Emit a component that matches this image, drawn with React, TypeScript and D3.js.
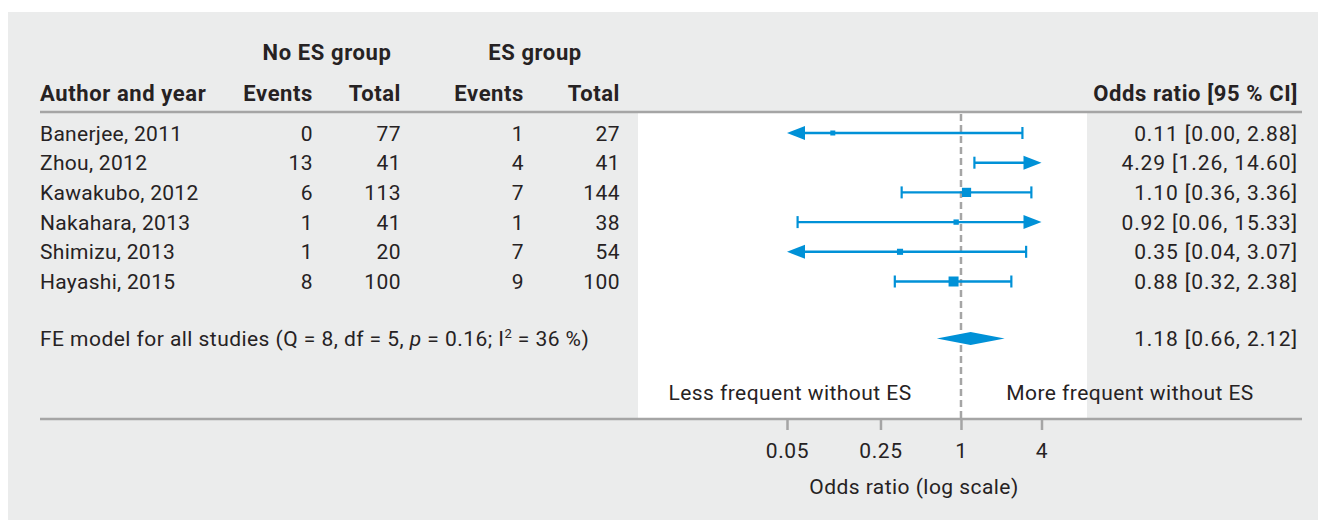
import React, { useEffect, useRef } from 'react';
import * as d3 from 'd3';

// study rows
const studies = ['Banerjee, 2011', 'Zhou, 2012', 'Kawakubo, 2012', 'Nakahara, 2013', 'Shimizu, 2013', 'Hayashi, 2015'];
const noEsEvents = [0, 13, 6, 1, 1, 8];
const noEsTotal = [77, 41, 113, 41, 20, 100];
const esEvents = [1, 4, 7, 1, 7, 9];
const esTotal = [27, 41, 144, 38, 54, 100];
const oddsRatio = [0.11, 4.29, 1.10, 0.92, 0.35, 0.88];
const ciLower = [0.00, 1.26, 0.36, 0.06, 0.04, 0.32];
const ciUpper = [2.88, 14.60, 3.36, 15.33, 3.07, 2.38];

// fixed-effect summary: estimate, lower, upper
const pooled = [1.18, 0.66, 2.12];
const axisTicks = [0.05, 0.25, 1, 4];

const W = 1320;
const H = 521;
const FONT = 'Roboto, "Open Sans", sans-serif';
const TEXT = '#262223';
const BLUE = '#0091d7';
const GREY_LINE = '#a5a5a5';

const App: React.FC = () => {
  const svgRef = useRef<SVGSVGElement>(null);

  useEffect(() => {
    if (!svgRef.current) return;
    const svg = d3.select(svgRef.current);
    svg.selectAll('*').remove();

    const x = d3.scaleLog().domain([0.05, 4]).range([787, 1041.5]);
    const y = d3.scalePoint<string>().domain(studies).range([133, 281.5]);
    const [xMin, xMax] = x.domain();

    // square size from inverse standard error (0.5 added when a cell is zero)
    const invSe = studies.map((_, i) => {
      const c = [noEsEvents[i], noEsTotal[i] - noEsEvents[i], esEvents[i], esTotal[i] - esEvents[i]];
      const cc = c.some(v => v === 0) ? c.map(v => v + 0.5) : c;
      return 1 / Math.sqrt(d3.sum(cc, v => 1 / v));
    });
    const size = d3.scaleLinear()
      .domain(d3.extent(invSe) as [number, number])
      .range([5, 10]);

    // panel
    svg.append('rect')
      .attr('x', 8).attr('y', 12)
      .attr('width', 1310).attr('height', 508)
      .attr('fill', '#ebecec');

    svg.append('rect')
      .attr('x', 638).attr('y', 113)
      .attr('width', 449).attr('height', 306)
      .attr('fill', '#ffffff');

    const txt = (g: d3.Selection<any, any, any, any>, tx: number, ty: number, s: string, anchor = 'start', bold = false, spacing = 0.45) =>
      g.append('text')
        .attr('x', tx).attr('y', ty)
        .attr('text-anchor', anchor)
        .attr('font-family', FONT)
        .attr('font-size', bold ? 22 : 21)
        .attr('font-weight', bold ? 'bold' : 'normal')
        .attr('letter-spacing', bold ? 0.6 : spacing)
        .attr('fill', TEXT)
        .text(s);

    // headers
    txt(svg, 327, 60, 'No ES group', 'middle', true);
    txt(svg, 535, 60, 'ES group', 'middle', true);
    txt(svg, 40, 101, 'Author and year', 'start', true);
    txt(svg, 313, 101, 'Events', 'end', true);
    txt(svg, 401, 101, 'Total', 'end', true);
    txt(svg, 524, 101, 'Events', 'end', true);
    txt(svg, 620, 101, 'Total', 'end', true);
    txt(svg, 1298, 101, 'Odds ratio [95 % CI]', 'end', true);

    svg.append('line')
      .attr('x1', 40).attr('x2', 1302)
      .attr('y1', 112).attr('y2', 112)
      .attr('stroke', GREY_LINE).attr('stroke-width', 2.5);

    // reference line at OR = 1
    svg.append('line')
      .attr('x1', x(1)).attr('x2', x(1))
      .attr('y1', 114).attr('y2', 419)
      .attr('stroke', GREY_LINE).attr('stroke-width', 2.5)
      .attr('stroke-dasharray', '7,4');

    const fmt = d3.format('.2f');
    const rows = svg.append('g');
    studies.forEach((s, i) => {
      const cy = y(s)!;
      const base = cy + 7.5;
      txt(rows, 40, base, s, 'start', false, 0.3);
      txt(rows, 313, base, String(noEsEvents[i]), 'end');
      txt(rows, 401, base, String(noEsTotal[i]), 'end');
      txt(rows, 524, base, String(esEvents[i]), 'end');
      txt(rows, 620, base, String(esTotal[i]), 'end');
      txt(rows, 1298, base, `${fmt(oddsRatio[i])} [${fmt(ciLower[i])}, ${fmt(ciUpper[i])}]`, 'end', false, 0.9);

      const lo = Math.max(ciLower[i], xMin);
      const hi = Math.min(ciUpper[i], xMax);
      const clipLo = ciLower[i] < xMin;
      const clipHi = ciUpper[i] > xMax;
      const aLen = 18;
      const aHalf = 7;

      rows.append('line')
        .attr('x1', x(lo) + (clipLo ? aLen - 1 : 0))
        .attr('x2', x(hi) - (clipHi ? aLen - 1 : 0))
        .attr('y1', cy).attr('y2', cy)
        .attr('stroke', BLUE).attr('stroke-width', 2.4);

      if (clipLo) {
        rows.append('path')
          .attr('d', `M${x(lo)},${cy}L${x(lo) + aLen},${cy - aHalf}L${x(lo) + aLen},${cy + aHalf}Z`)
          .attr('fill', BLUE);
      } else {
        rows.append('line')
          .attr('x1', x(lo)).attr('x2', x(lo))
          .attr('y1', cy - 6).attr('y2', cy + 6)
          .attr('stroke', BLUE).attr('stroke-width', 2.2);
      }
      if (clipHi) {
        rows.append('path')
          .attr('d', `M${x(hi)},${cy}L${x(hi) - aLen},${cy - aHalf}L${x(hi) - aLen},${cy + aHalf}Z`)
          .attr('fill', BLUE);
      } else {
        rows.append('line')
          .attr('x1', x(hi)).attr('x2', x(hi))
          .attr('y1', cy - 6).attr('y2', cy + 6)
          .attr('stroke', BLUE).attr('stroke-width', 2.2);
      }

      if (oddsRatio[i] >= xMin && oddsRatio[i] <= xMax) {
        const sz = size(invSe[i]);
        rows.append('rect')
          .attr('x', x(oddsRatio[i]) - sz / 2)
          .attr('y', cy - sz / 2)
          .attr('width', sz).attr('height', sz)
          .attr('fill', BLUE);
      }
    });

    // summary row
    const fy = 338.5;
    const fe = svg.append('text')
      .attr('x', 40).attr('y', fy + 7.5)
      .attr('font-family', FONT).attr('font-size', 21)
      .attr('letter-spacing', 0.45).attr('fill', TEXT);
    fe.append('tspan').text('FE model for all studies (Q = 8, df = 5, ');
    fe.append('tspan').attr('font-style', 'italic').text('p');
    fe.append('tspan').text(' = 0.16; I');
    fe.append('tspan').attr('font-size', 13).attr('dy', -8).text('2');
    fe.append('tspan').attr('dy', 8).text(' = 36 %)');

    txt(svg, 1298, fy + 7.5, `${fmt(pooled[0])} [${fmt(pooled[1])}, ${fmt(pooled[2])}]`, 'end', false, 0.9);

    svg.append('path')
      .attr('d', `M${x(pooled[1])},${fy}L${x(pooled[0])},${fy - 6.5}L${x(pooled[2])},${fy}L${x(pooled[0])},${fy + 6.5}Z`)
      .attr('fill', BLUE);

    txt(svg, 790, 400, 'Less frequent without ES', 'middle');
    txt(svg, 1130, 400, 'More frequent without ES', 'middle');

    // axis
    svg.append('line')
      .attr('x1', 40).attr('x2', 1302)
      .attr('y1', 419).attr('y2', 419)
      .attr('stroke', GREY_LINE).attr('stroke-width', 2.5);

    const axis = svg.append('g').attr('transform', 'translate(0,419)');
    axis.call(
      d3.axisBottom(x)
        .tickValues(axisTicks)
        .tickFormat(d => String(d))
        .tickSize(11)
        .tickPadding(26)
    );
    axis.select('.domain').remove();
    axis.selectAll('.tick line').attr('stroke', GREY_LINE).attr('stroke-width', 2.5);
    axis.selectAll('.tick text')
      .attr('font-family', FONT)
      .attr('font-size', 21)
      .attr('letter-spacing', 0.6)
      .attr('fill', TEXT)
      .attr('dy', 0)
      .attr('y', 38.5);

    txt(svg, 914, 494, 'Odds ratio (log scale)', 'middle');
  }, []);

  return (
    <div style={{ position: 'absolute', left: 0, top: 0, width: W, height: H, background: '#ffffff' }}>
      <svg ref={svgRef} width={W} height={H} viewBox={`0 0 ${W} ${H}`} style={{ display: 'block' }} />
    </div>
  );
};

export default App;
